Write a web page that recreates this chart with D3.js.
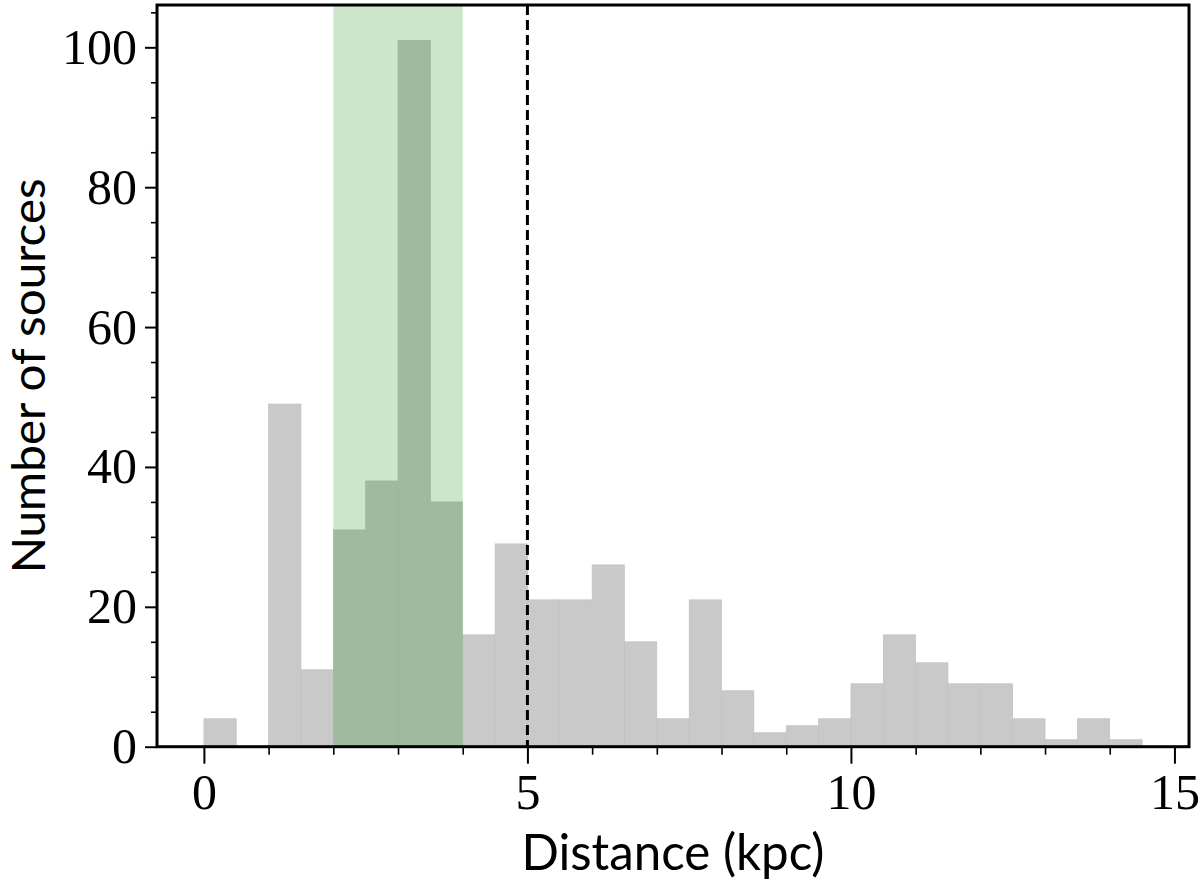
<!DOCTYPE html>
<html>
<head>
<meta charset="utf-8">
<script src="https://cdn.jsdelivr.net/npm/d3@7"></script>
<style>
  html, body { margin: 0; padding: 0; background: #fff; }
  svg { display: block; }
</style>
</head>
<body>
<svg id="chart" width="1200" height="884"></svg>
<script>
// ---- Data ----
const binStarts = [0, 0.5, 1, 1.5, 2, 2.5, 3, 3.5, 4, 4.5, 5, 5.5, 6, 6.5, 7, 7.5, 8, 8.5, 9, 9.5, 10, 10.5, 11, 11.5, 12, 12.5, 13, 13.5, 14];
const counts    = [4, 0, 49, 11, 31, 38, 101, 35, 16, 29, 21, 21, 26, 15, 4, 21, 8, 2, 3, 4, 9, 16, 12, 9, 9, 4, 1, 4, 1];
const binWidth = 0.5;
const spanRange = [2, 4];
const refLine = 5;
const xMajorTicks = [0, 5, 10, 15];
const xMinorTicks = [1, 2, 3, 4, 6, 7, 8, 9, 11, 12, 13, 14];
const yMajorTicks = [0, 20, 40, 60, 80, 100];
const yMinorTicks = [5, 10, 15, 25, 30, 35, 45, 50, 55, 65, 70, 75, 85, 90, 95, 105];
const xLabel = "Distance (kpc)";
const yLabel = "Number of sources";

// ---- Layout ----
const W = 1200, H = 884;
const margin = {left: 157, top: 5, right: 11, bottom: 137.3};
const iw = W - margin.left - margin.right;
const ih = H - margin.top - margin.bottom;

const svg = d3.select("#chart");
const g = svg.append("g").attr("transform", `translate(${margin.left},${margin.top})`);

const x = d3.scaleLinear().domain([-0.725, 15.225]).range([0, iw]);
const y = d3.scaleLinear().domain([0, 106.05]).range([ih, 0]);

// bars
g.selectAll("rect.bar")
  .data(binStarts.map((s, i) => ({s, c: counts[i]})).filter(d => d.c > 0))
  .enter().append("rect")
  .attr("class", "bar")
  .attr("x", d => x(d.s))
  .attr("width", d => x(d.s + binWidth) - x(d.s))
  .attr("y", d => y(d.c))
  .attr("height", d => y(0) - y(d.c))
  .attr("fill", "#c9c9c9")
  .attr("stroke", "#bfbfbf")
  .attr("stroke-width", 0.6);

// green span
g.append("rect")
  .attr("x", x(spanRange[0]))
  .attr("width", x(spanRange[1]) - x(spanRange[0]))
  .attr("y", 0)
  .attr("height", ih)
  .attr("fill", "rgb(0,128,0)")
  .attr("fill-opacity", 0.2);

// dashed line
g.append("line")
  .attr("x1", x(refLine)).attr("x2", x(refLine))
  .attr("y1", 0).attr("y2", ih)
  .attr("stroke", "#000")
  .attr("stroke-width", 3)
  .attr("stroke-dasharray", "10,5");

// axes
const serif = "'Liberation Serif', 'Times New Roman', serif";
const xAxis = d3.axisBottom(x).tickValues(xMajorTicks).tickSize(17).tickPadding(10).tickFormat(d3.format("d"));
const xAxisMinor = d3.axisBottom(x).tickValues(xMinorTicks).tickSize(8).tickFormat("");
const yAxis = d3.axisLeft(y).tickValues(yMajorTicks).tickSize(12).tickPadding(8).tickFormat(d3.format("d"));
const yAxisMinor = d3.axisLeft(y).tickValues(yMinorTicks).tickSize(6).tickFormat("");

function styleAxis(sel, tw) {
  sel.select(".domain").remove();
  sel.selectAll(".tick line").attr("stroke", "#000").attr("stroke-width", tw);
  sel.selectAll(".tick text").attr("fill", "#000").style("font-family", serif).style("font-size", "50px");
}

g.append("g").attr("transform", `translate(0,${ih})`).call(xAxis).call(s => styleAxis(s, 2));
g.append("g").attr("transform", `translate(0,${ih})`).call(xAxisMinor).call(s => styleAxis(s, 1.6));
g.append("g").call(yAxis).call(s => styleAxis(s, 2));
g.append("g").call(yAxisMinor).call(s => styleAxis(s, 1.6));

// frame
g.append("rect")
  .attr("x", 0).attr("y", 0).attr("width", iw).attr("height", ih)
  .attr("fill", "none").attr("stroke", "#000").attr("stroke-width", 3);

// labels
const sans = "Lato, 'Open Sans', sans-serif";
svg.append("text")
  .attr("x", margin.left + iw / 2)
  .attr("y", 870)
  .attr("text-anchor", "middle")
  .style("font-family", sans)
  .style("font-size", "50px")
  .attr("fill", "#000")
  .attr("textLength", 303)
  .attr("lengthAdjust", "spacingAndGlyphs")
  .text(xLabel);

svg.append("text")
  .attr("transform", `translate(45,${margin.top + ih / 2}) rotate(-90)`)
  .attr("text-anchor", "middle")
  .style("font-family", sans)
  .style("font-size", "46px")
  .attr("fill", "#000")
  .attr("textLength", 395)
  .attr("lengthAdjust", "spacingAndGlyphs")
  .text(yLabel);
</script>
</body>
</html>
